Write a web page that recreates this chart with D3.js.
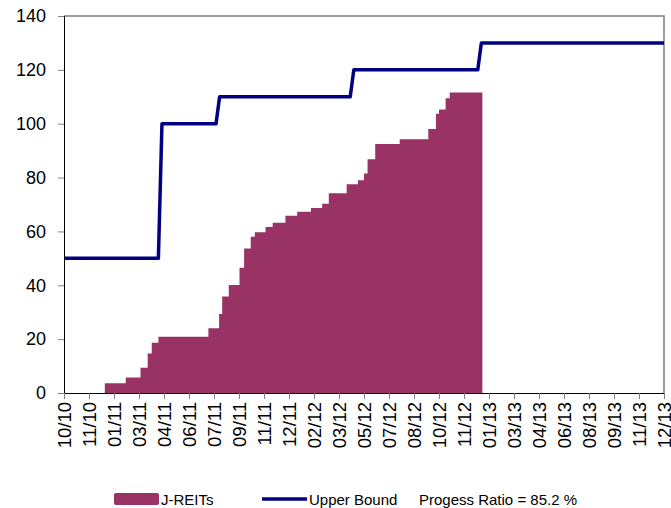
<html>
    <head>
        <meta charset='UTF-8'>
        <script src="https://d3js.org/d3.v7.min.js"></script>
        <style>
            body { margin: 0; background: white; }
            text { font-family: Arial, 'Liberation Sans', sans-serif; fill: black; }
            .axis .domain { stroke: black; }
            .axis line { stroke: #808080; }
        </style>
    </head>
    <body>
        <svg id="chart" height="508" width="671"></svg>

        <script>
            // tick dates on the x axis (every 49 days)
            const tickDates = ['2010-10-07','2010-11-25','2011-01-13','2011-03-03','2011-04-21','2011-06-09',
                               '2011-07-28','2011-09-15','2011-11-03','2011-12-22','2012-02-09','2012-03-29',
                               '2012-05-17','2012-07-05','2012-08-23','2012-10-11','2012-11-29','2013-01-17',
                               '2013-03-07','2013-04-25','2013-06-13','2013-08-01','2013-09-19','2013-11-07',
                               '2013-12-26'];
            const yTicks = [0, 20, 40, 60, 80, 100, 120, 140];

            // cumulative J-REITs purchases (step starts)
            const reitDates = ['2010-12-26','2011-02-05','2011-03-06','2011-03-20','2011-03-28','2011-04-10',
                               '2011-07-17','2011-08-07','2011-08-13','2011-08-26','2011-09-16','2011-09-25',
                               '2011-10-08','2011-10-16','2011-11-06','2011-11-20','2011-12-15','2012-01-07',
                               '2012-02-03','2012-02-25','2012-03-09','2012-04-13','2012-05-05','2012-05-17',
                               '2012-05-24','2012-06-08','2012-07-26','2012-09-20','2012-10-05','2012-10-11',
                               '2012-10-24','2012-11-01','2013-01-04'];
            const reitValues = [3.6, 5.8, 9.4, 14.7, 18.7, 20.9,
                                24.0, 29.3, 35.8, 40.1, 46.5, 53.7,
                                58.0, 59.7, 61.6, 63.2, 65.8, 67.3,
                                68.7, 70.3, 74.2, 77.5, 79.0, 81.5,
                                86.8, 92.5, 94.2, 98.0, 103.7, 105.3,
                                109.5, 111.6, 111.6];

            // upper bound
            const boundDates = ['2010-10-07','2011-04-10','2011-04-17','2011-08-01','2011-08-08','2012-04-20',
                                '2012-04-27','2012-12-26','2013-01-02','2013-12-26'];
            const boundValues = [50, 50, 100, 100, 110, 110, 120, 120, 130, 130];

            const legendRatio = 'Progess Ratio = 85.2 %';

            const parseDate = d3.timeParse('%Y-%m-%d');
            const reits = reitDates.map((d, i) => ({date: parseDate(d), value: reitValues[i]}));
            const bound = boundDates.map((d, i) => ({date: parseDate(d), value: boundValues[i]}));

            const chart = d3.select('svg#chart');
            const margin = {top: 16, right: 7, bottom: 115, left: 64};
            const width = 671, height = 508;
            const chartWidth = width - margin.left - margin.right;
            const chartHeight = height - margin.top - margin.bottom;

            const xScale = d3.scaleTime()
                             .domain([parseDate(tickDates[0]), parseDate(tickDates[tickDates.length - 1])])
                             .range([0, chartWidth]);
            const yScale = d3.scaleLinear().domain([0, 140]).range([chartHeight, 0]);

            const plot = chart.append('g').attr('transform', `translate(${margin.left},${margin.top})`);

            // frame on top and right
            plot.append('path')
                .attr('d', `M0,0H${chartWidth}V${chartHeight}`)
                .attr('fill', 'none')
                .attr('stroke', '#808080')
                .attr('stroke-width', 1.5);

            // J-REITs area
            const areaGen = d3.area()
                              .curve(d3.curveStepAfter)
                              .x(d => xScale(d.date))
                              .y0(yScale(0))
                              .y1(d => yScale(d.value));
            plot.append('path')
                .datum(reits)
                .attr('fill', '#993366')
                .attr('d', areaGen);

            // upper bound line
            const lineGen = d3.line()
                              .x(d => xScale(d.date))
                              .y(d => yScale(d.value));
            plot.append('path')
                .datum(bound)
                .attr('fill', 'none')
                .attr('stroke', '#000080')
                .attr('stroke-width', 3.5)
                .attr('stroke-linejoin', 'round')
                .attr('d', lineGen);

            // axes
            const leftAxis = d3.axisLeft(yScale).tickValues(yTicks).tickSize(6).tickPadding(12);
            plot.append('g')
                .attr('class', 'axis')
                .call(leftAxis)
                .call(g => g.selectAll('text').style('font-size', '18px'));

            const fmt = d3.timeFormat('%m/%y');
            const bottomAxis = d3.axisBottom(xScale)
                                 .tickValues(tickDates.map(parseDate))
                                 .tickFormat(fmt)
                                 .tickSize(6);
            plot.append('g')
                .attr('class', 'axis')
                .attr('transform', `translate(0,${chartHeight})`)
                .call(bottomAxis)
                .call(g => g.selectAll('text')
                            .style('font-size', '18.5px')
                            .attr('text-anchor', 'end')
                            .attr('transform', 'rotate(-90)')
                            .attr('x', -9)
                            .attr('y', 0)
                            .attr('dy', '0.35em'));

            // legend
            const legend = chart.append('g').attr('transform', 'translate(0,499)');
            legend.append('rect')
                  .attr('x', 114).attr('y', -6).attr('width', 45).attr('height', 12)
                  .attr('rx', 2)
                  .attr('fill', '#993366');
            legend.append('text').attr('x', 161).attr('y', 5.5).style('font-size', '15px').text('J-REITs');
            legend.append('line')
                  .attr('x1', 262).attr('x2', 307).attr('y1', 0).attr('y2', 0)
                  .attr('stroke', '#000080').attr('stroke-width', 3.5);
            legend.append('text').attr('x', 309).attr('y', 5.5).style('font-size', '15px').text('Upper Bound');
            legend.append('text').attr('x', 419).attr('y', 5.5).style('font-size', '15px').text(legendRatio);
        </script>
    </body>
</html>
